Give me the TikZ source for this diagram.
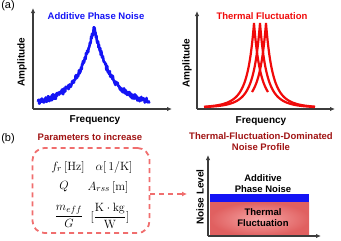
\documentclass[tikz,border=0pt]{standalone}
\usepackage{amsmath}
\usepackage{amssymb}
\usepackage[no-math]{fontspec}
\setmainfont{Liberation Sans}
\usepackage{tikz}
\usepackage{xcolor}
\usetikzlibrary{arrows.meta}

\definecolor{axgray}{RGB}{60,60,60}
\definecolor{noiseblue}{RGB}{20,20,245}
\definecolor{thermred}{RGB}{240,10,10}
\definecolor{titlered}{RGB}{160,20,20}
\definecolor{salmon}{RGB}{240,110,110}

\tikzset{
  axis/.style={draw=axgray,line width=1.3pt,-{Latex[length=5pt,width=4.5pt]}},
  axlabel/.style={font=\bfseries\fontsize{10}{12}\selectfont},
  title/.style={font=\bfseries\fontsize{9.5}{11}\selectfont,align=center},
  param/.style={font=\fontsize{13}{15}\selectfont,inner sep=0pt},
}

\begin{document}
\begin{tikzpicture}[x=1pt,y=-1pt]
\useasboundingbox (0,0) rectangle (341,241);
\pgfmathsetseed{7}
% (a) spectra
\node[font=\fontsize{11}{13}\selectfont] (alabel) at (8,6) {(a)};
\draw[axis] (33,109)--(33,8);
\draw[axis] (33,109)--(172,109);
\node[axlabel,rotate=90] (amp1) at (22,62) {Amplitude};
\node[axlabel] (freq1) at (95,120) {Frequency};
\node[title,text=noiseblue] (addtitle) at (96,16) {Additive Phase Noise};
\draw[noiseblue,line width=2.6pt,line join=round]
  plot[domain=38:150,samples=260] (\x,{104-77*exp(-abs(\x-94)/17)+2.8*rand});

\draw[axis] (197,109)--(197,11);
\draw[axis] (197,109)--(335,109);
\node[axlabel,rotate=90] (amp2) at (187,63) {Amplitude};
\node[axlabel] (freq2) at (261,121) {Frequency};
\node[title,text=thermred] (thermtitle) at (262,16) {Thermal Fluctuation};
\begin{scope}[thermred,line width=2.2pt]
\draw plot[domain=204:268,samples=129] (\x,{108-85*(27/(abs(\x-254)+27))^4});
\draw plot[domain=205:315,samples=221] (\x,{108-85*(27/(abs(\x-260)+27))^4});
\draw plot[domain=252:315,samples=127] (\x,{108-85*(27/(abs(\x-266)+27))^4});
\end{scope}

% (b) parameters and noise profile
\node[font=\fontsize{11}{13}\selectfont] (blabel) at (8,139) {(b)};
\node[title,text=titlered] (partitle) at (90,137) {Parameters to increase};
\node[draw=salmon,line width=1.8pt,dash pattern=on 5pt off 4pt,rounded corners=12pt,
  minimum width=117pt,minimum height=85pt] (params) at (91,190.5) {};
\node[param] (fr) at (68,167) {$f_r\,[\mathrm{Hz}]$};
\node[param] (alpha) at (114,167) {$\alpha[\,1/\mathrm{K}]$};
\node[param] (Q) at (64,187) {$Q$};
\node[param] (Arss) at (108,187) {$A_{rss}\,[\mathrm{m}]$};
\node[param] (meff) at (69,216) {$\dfrac{m_{eff}}{G}$};
\node[param] (unit) at (110,216) {$[\dfrac{\mathrm{K}\cdot\mathrm{kg}}{\mathrm{W}}]$};
\coordinate (tip) at (187,194);
\draw[salmon,line width=1.8pt,dash pattern=on 5pt off 4pt,-{Latex[length=5pt,width=5pt]}]
  ([yshift=-3.5pt]params.east) -- (tip);

\node[title,text=titlered] (proftitle) at (261,142) {Thermal-Fluctuation-Dominated\\Noise Profile};
\shade[inner color={rgb,255:red,246;green,165;blue,165},outer color={rgb,255:red,224;green,96;blue,96}]
  (210,202) rectangle (309,236);
\fill[noiseblue] (210,194) rectangle (309,202);
\draw[axis] (208,236)--(208,155);
\draw[axis] (208,236)--(321,236);
\node[axlabel,rotate=90] (level) at (200,197) {Noise Level};
\node[title] (addlbl) at (263,184) {Additive\\Phase Noise};
\node[title] (thermlbl) at (263,218) {Thermal\\Fluctuation};
\end{tikzpicture}
\end{document}
